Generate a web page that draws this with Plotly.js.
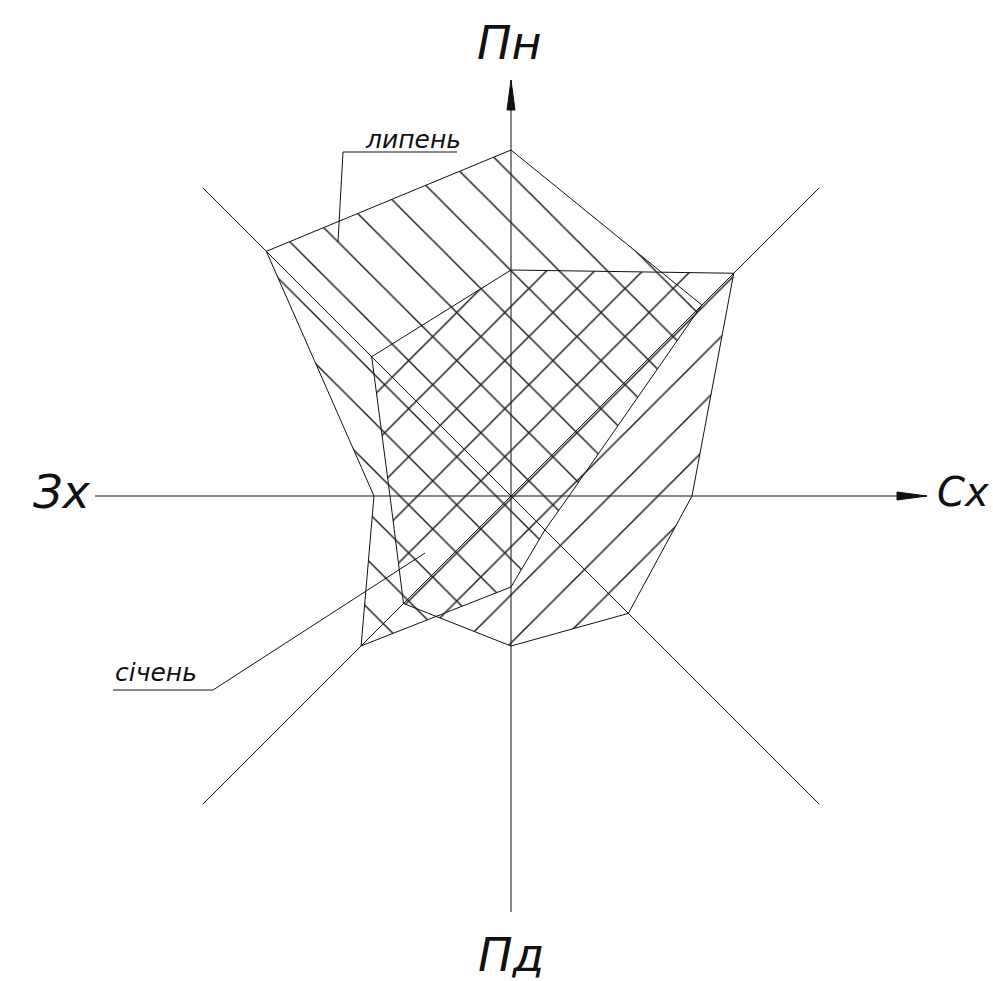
<!DOCTYPE html>
<html>
<head>
<meta charset="utf-8">
<script src="https://cdn.plot.ly/plotly-3.0.1.min.js"></script>
<style>html,body{margin:0;padding:0;background:#fff;}#chart{width:993px;height:981px;}</style>
</head>
<body>
<div id="chart"></div>
<script>
// Directions, clockwise from north
const directions = ['Пн', 'ПнСх', 'Сх', 'ПдСх', 'Пд', 'ПдЗх', 'Зх', 'ПнЗх'];
const angles = [0, 45, 90, 135, 180, 225, 270, 315];
// Wind rose values (relative lengths)
const julyValues = [346, 270, 58, 48, 91, 212, 137, 346];     // липень
const januaryValues = [226, 315, 181, 166, 150, 152, 121, 197]; // січень
const seriesNames = ['липень', 'січень'];
const axisLabels = ['Пн', 'Сх', 'Пд', 'Зх'];

const AX = 416, DIAG = 436;

function toXY(vals) {
  const x = [], y = [];
  vals.forEach((r, i) => {
    const t = angles[i] * Math.PI / 180;
    x.push(r * Math.sin(t));
    y.push(r * Math.cos(t));
  });
  x.push(x[0]); y.push(y[0]);
  return {x, y};
}

const j = toXY(julyValues), s = toXY(januaryValues);
const pat = (shape) => ({shape: shape, size: 34, solidity: 0.045, fgcolor: '#222', bgcolor: 'rgba(0,0,0,0)', fillmode: 'replace'});

const traces = [
  {type: 'scatter', mode: 'lines', x: j.x, y: j.y, name: seriesNames[0], fill: 'toself',
   fillcolor: 'rgba(0,0,0,0)', fillpattern: pat('\\'), line: {color: '#111', width: 1}, hoverinfo: 'skip'},
  {type: 'scatter', mode: 'lines', x: s.x, y: s.y, name: seriesNames[1], fill: 'toself',
   fillcolor: 'rgba(0,0,0,0)', fillpattern: pat('/'), line: {color: '#111', width: 1}, hoverinfo: 'skip'}
];

const shapes = [];
const ln = {color: '#111', width: 1};
shapes.push({type: 'line', x0: 0, y0: -AX, x1: 0, y1: AX, line: ln, layer: 'below'});
shapes.push({type: 'line', x0: -AX, y0: 0, x1: AX, y1: 0, line: ln, layer: 'below'});
const d = DIAG / Math.SQRT2;
shapes.push({type: 'line', x0: -d, y0: d, x1: d, y1: -d, line: ln, layer: 'below'});
shapes.push({type: 'line', x0: -d, y0: -d, x1: d, y1: d, line: ln, layer: 'below'});
// arrowheads
const AL = 30, AW = 4;
shapes.push({type: 'path', path: `M0,${AX} L${-AW},${AX - AL} L${AW},${AX - AL} Z`, fillcolor: '#111', line: {color: '#111', width: 1}});
shapes.push({type: 'path', path: `M${AX},0 L${AX - AL},${AW} L${AX - AL},${-AW} Z`, fillcolor: '#111', line: {color: '#111', width: 1}});
// leader lines
shapes.push({type: 'path', path: 'M-54,344 L-168,344 L-173,254', line: {color: '#111', width: 1}});
shapes.push({type: 'path', path: 'M-398,-194 L-298,-194 L-86,-57', line: {color: '#111', width: 1}});

const bigFont = {family: 'DejaVu Sans', size: 46, color: '#111', style: 'italic'};
const edgeFont = {family: 'DejaVu Sans', size: 40, color: '#111', style: 'italic'};
const smallFont = {family: 'DejaVu Sans', size: 25, color: '#111', style: 'italic'};
const annotations = [
  {x: -2, y: 453, text: axisLabels[0], showarrow: false, xanchor: 'center', yanchor: 'middle', font: bigFont},
  {x: 424, y: 4, text: axisLabels[1], showarrow: false, xanchor: 'left', yanchor: 'middle', font: edgeFont},
  {x: 0, y: -459, text: axisLabels[2], showarrow: false, xanchor: 'center', yanchor: 'middle', font: bigFont},
  {x: -419, y: 4, text: axisLabels[3], showarrow: false, xanchor: 'right', yanchor: 'middle', font: bigFont},
  {x: -148, y: 357, text: seriesNames[0], showarrow: false, xanchor: 'left', yanchor: 'middle', font: smallFont},
  {x: -398, y: -176, text: seriesNames[1], showarrow: false, xanchor: 'left', yanchor: 'middle', font: smallFont}
];

const layout = {
  width: 993, height: 981,
  margin: {l: 0, r: 0, t: 0, b: 0, pad: 0},
  paper_bgcolor: '#fff', plot_bgcolor: '#fff',
  showlegend: false,
  xaxis: {range: [-511, 482], visible: false, fixedrange: true},
  yaxis: {range: [-485, 496], visible: false, fixedrange: true},
  shapes: shapes,
  annotations: annotations
};

Plotly.newPlot('chart', traces, layout, {staticPlot: true, displayModeBar: false});
</script>
</body>
</html>
